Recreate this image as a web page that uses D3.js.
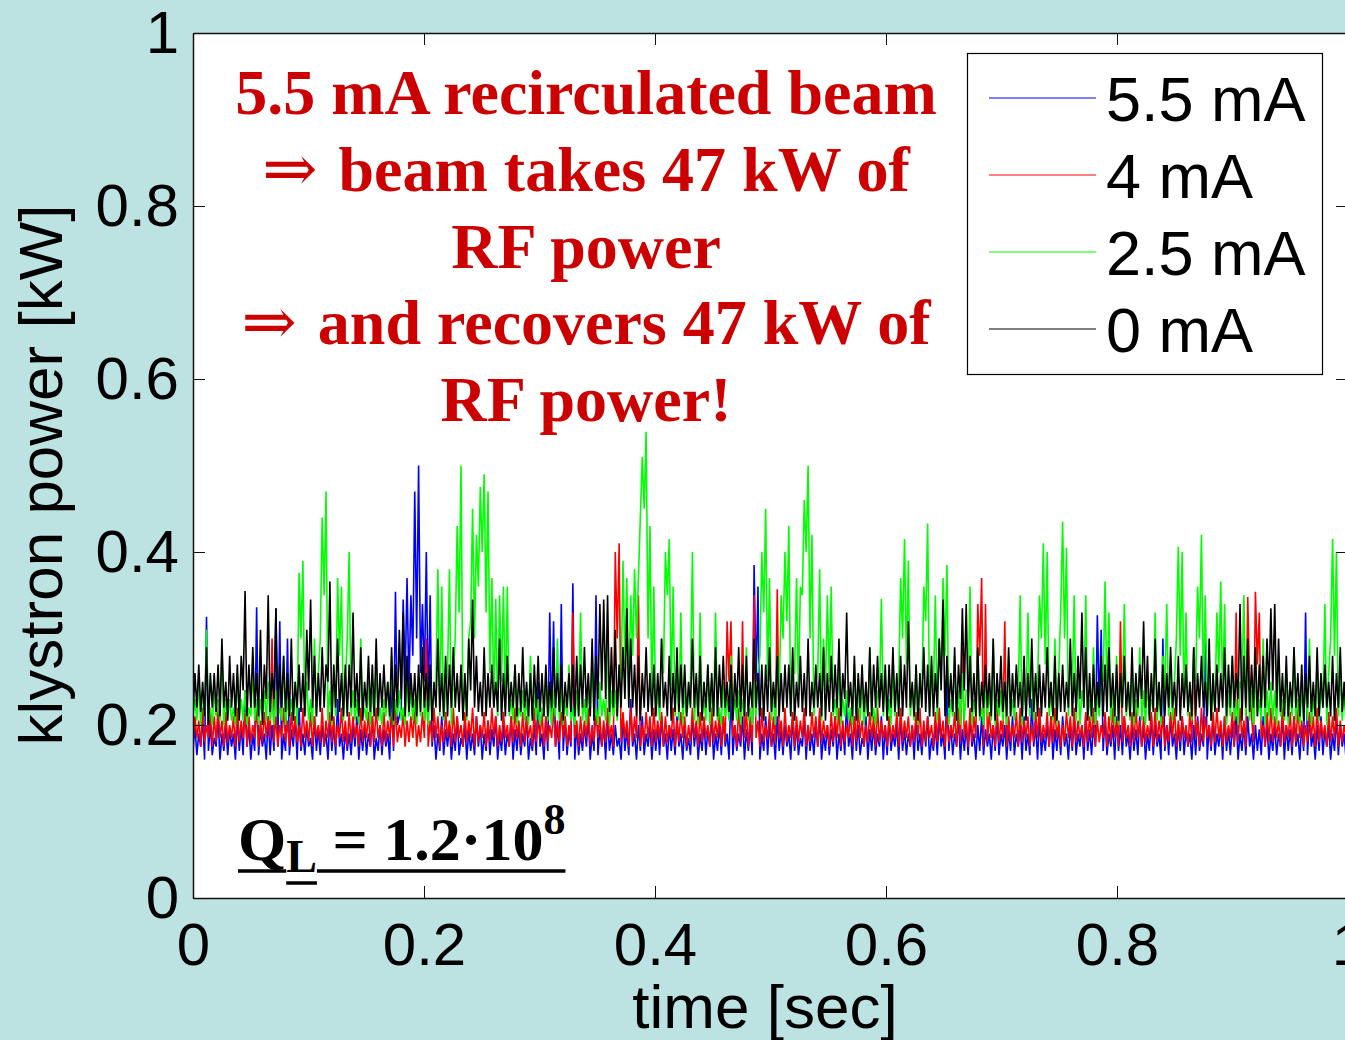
<html>
<head>
<meta charset="utf-8">
<style>
  body { margin: 0; background: #bce2e2; }
  svg { display: block; }
  .tick text { font-family: "Liberation Sans", Arial, sans-serif; }
</style>
</head>
<body>
<svg width="1345" height="1040"></svg>
<script src="https://unpkg.com/d3@7/dist/d3.min.js"></script>
<script>
const p55 = [
  .17,.2,.165,.19,.175,.21,.16,.325,.17,.2,.165,.185,.175,.21,.16,.19,.17,.2,.165,.195,.175,.19,.16,.21,.17,.2,.165,.24,.175,.2,.16,.19,.17,.336,.165,.195,.175,.19,.16,.21,
  .165,.2,.17,.335,.175,.32,.16,.19,.17,.30,.165,.195,.175,.21,.16,.22,.17,.19,.165,.2,.175,.185,.16,.21,.17,.195,.165,.2,.175,.19,.16,.21,.17,.2,.165,.23,.175,.19,.16,.195,
  .17,.19,.165,.2,.175,.21,.16,.195,.17,.2,.165,.19,.175,.21,.16,.185,.17,.2,.165,.195,.175,.19,.16,.26,.17,.354,.2,.21,.22,.345,.25,.37,.24,.35,.28,.47,.3,.50,.26,.34,
  .25,.40,.22,.35,.175,.2,.16,.19,.17,.21,.165,.195,.175,.2,.16,.19,.17,.21,.165,.185,.175,.2,.16,.195,.17,.19,.165,.21,.175,.2,.16,.19,.17,.205,.165,.195,.175,.21,.16,.19,
  .17,.2,.165,.19,.175,.21,.16,.195,.17,.2,.165,.19,.175,.21,.16,.185,.17,.2,.165,.25,.175,.19,.16,.21,.17,.33,.2,.32,.175,.2,.16,.34,.17,.21,.165,.195,.175,.364,.16,.2,
  .165,.19,.17,.2,.175,.21,.16,.19,.17,.35,.165,.195,.175,.2,.16,.21,.17,.19,.165,.2,.175,.185,.16,.21,.17,.195,.165,.23,.175,.19,.16,.2,.17,.21,.165,.19,.175,.2,.16,.195,
  .17,.2,.165,.21,.175,.19,.16,.2,.17,.195,.165,.21,.175,.19,.16,.2,.17,.185,.165,.21,.175,.2,.16,.19,.17,.205,.165,.195,.175,.21,.16,.19,.17,.2,.165,.21,.175,.19,.16,.24,
  .165,.2,.17,.19,.175,.21,.16,.195,.17,.2,.165,.385,.25,.36,.16,.19,.17,.21,.165,.2,.175,.19,.16,.21,.17,.195,.165,.2,.175,.19,.16,.21,.17,.2,.165,.185,.175,.21,.16,.2,
  .17,.19,.165,.2,.175,.21,.16,.19,.17,.2,.165,.195,.175,.21,.16,.19,.17,.2,.165,.23,.175,.19,.16,.21,.17,.2,.165,.185,.175,.21,.16,.195,.17,.2,.165,.19,.175,.21,.16,.2,
  .165,.21,.17,.19,.175,.2,.16,.21,.17,.195,.165,.19,.175,.2,.16,.21,.17,.19,.165,.2,.175,.21,.16,.185,.17,.2,.165,.21,.175,.19,.16,.25,.17,.2,.165,.19,.175,.21,.16,.195,
  .17,.2,.165,.21,.175,.19,.16,.2,.17,.21,.165,.195,.175,.19,.16,.2,.17,.21,.165,.19,.175,.2,.16,.195,.17,.21,.165,.19,.175,.2,.16,.21,.17,.19,.165,.23,.175,.2,.16,.21,
  .165,.19,.17,.2,.175,.21,.16,.195,.17,.2,.165,.21,.175,.19,.16,.2,.17,.21,.165,.19,.175,.2,.16,.21,.17,.195,.165,.2,.175,.327,.22,.31,.17,.21,.165,.19,.175,.2,.16,.21,
  .17,.2,.165,.21,.175,.19,.16,.2,.17,.195,.165,.21,.175,.2,.16,.19,.17,.21,.165,.2,.175,.19,.16,.30,.17,.2,.165,.21,.175,.19,.16,.2,.17,.21,.165,.195,.175,.19,.16,.2,
  .165,.21,.17,.19,.175,.30,.16,.2,.17,.21,.165,.19,.175,.2,.16,.21,.17,.195,.165,.2,.175,.21,.16,.19,.17,.2,.165,.21,.175,.19,.16,.2,.17,.195,.165,.21,.175,.2,.16,.19,
  .17,.2,.165,.19,.175,.21,.16,.2,.17,.195,.165,.21,.175,.19,.16,.2,.17,.33,.165,.21,.175,.19,.16,.2,.17,.21,.165,.195,.175,.2,.16,.19,.17,.21,.165,.2,.175,.19,.16,.2
];
const p40 = [
  .18,.21,.185,.205,.175,.22,.18,.2,.185,.215,.175,.21,.18,.22,.185,.205,.175,.215,.18,.2,.185,.21,.175,.22,.18,.205,.185,.215,.175,.21,.18,.2,.185,.22,.175,.205,.18,.215,.185,.21,
  .185,.30,.18,.21,.175,.2,.185,.22,.18,.205,.175,.215,.185,.21,.18,.2,.175,.22,.185,.205,.18,.215,.175,.21,.185,.2,.18,.22,.175,.205,.185,.215,.18,.21,.175,.2,.185,.22,.18,.205,
  .175,.215,.18,.21,.185,.2,.175,.22,.18,.205,.185,.215,.175,.21,.18,.22,.185,.2,.175,.215,.18,.205,.185,.21,.175,.22,.18,.2,.185,.215,.175,.205,.18,.21,.185,.22,.175,.2,.18,.215,
  .185,.30,.175,.205,.18,.22,.185,.21,.175,.2,.18,.215,.185,.205,.175,.22,.18,.21,.185,.2,.175,.215,.18,.205,.185,.22,.175,.21,.18,.2,.185,.215,.175,.205,.18,.22,.185,.21,.175,.2,
  .18,.215,.185,.2,.175,.21,.18,.22,.185,.205,.175,.215,.18,.21,.185,.2,.175,.22,.18,.205,.185,.215,.175,.21,.18,.2,.185,.22,.175,.205,.18,.215,.185,.21,.175,.2,.18,.33,.185,.205,
  .175,.21,.18,.205,.185,.22,.175,.2,.18,.215,.185,.21,.175,.205,.18,.22,.185,.2,.175,.40,.3,.41,.18,.215,.185,.205,.175,.22,.18,.21,.185,.35,.175,.2,.18,.215,.185,.21,.175,.22,
  .18,.205,.185,.215,.175,.21,.18,.2,.185,.22,.175,.205,.18,.215,.185,.21,.175,.2,.18,.22,.185,.205,.175,.215,.18,.21,.185,.2,.175,.22,.18,.205,.185,.215,.175,.21,.18,.32,.25,.32,
  .185,.2,.175,.22,.18,.32,.185,.215,.175,.21,.18,.35,.185,.205,.175,.22,.18,.2,.185,.215,.175,.21,.18,.357,.185,.205,.175,.22,.18,.2,.185,.215,.175,.21,.18,.205,.185,.22,.175,.2,
  .18,.215,.185,.21,.175,.22,.18,.205,.185,.2,.175,.215,.18,.21,.185,.22,.175,.205,.18,.2,.185,.215,.175,.21,.18,.22,.185,.205,.175,.2,.18,.215,.185,.21,.175,.22,.18,.205,.185,.2,
  .175,.21,.18,.2,.185,.215,.175,.22,.18,.205,.185,.21,.175,.2,.18,.215,.185,.22,.175,.205,.18,.21,.185,.2,.175,.215,.18,.22,.185,.205,.175,.21,.18,.2,.185,.215,.175,.22,.18,.29,
  .185,.205,.175,.22,.18,.21,.185,.34,.28,.37,.175,.34,.18,.215,.185,.2,.175,.22,.18,.205,.185,.32,.175,.21,.18,.2,.185,.215,.175,.22,.18,.205,.185,.21,.175,.2,.18,.215,.185,.22,
  .18,.2,.185,.215,.175,.21,.18,.22,.185,.205,.175,.2,.18,.215,.185,.21,.175,.22,.18,.205,.185,.2,.175,.215,.18,.21,.185,.22,.175,.205,.18,.2,.185,.215,.175,.21,.18,.22,.185,.205,
  .175,.32,.18,.21,.185,.2,.175,.215,.18,.22,.185,.205,.175,.21,.18,.2,.185,.215,.175,.22,.18,.205,.185,.21,.175,.2,.18,.215,.185,.22,.175,.205,.18,.21,.185,.2,.175,.215,.18,.29,
  .185,.205,.175,.22,.18,.21,.185,.2,.175,.215,.18,.22,.185,.205,.175,.21,.18,.2,.185,.215,.175,.33,.18,.22,.185,.205,.175,.348,.25,.21,.18,.354,.27,.33,.185,.2,.175,.215,.18,.22,
  .18,.21,.185,.205,.175,.22,.18,.2,.185,.215,.175,.21,.18,.22,.185,.205,.175,.2,.18,.215,.185,.21,.175,.22,.18,.205,.185,.2,.175,.215,.18,.21,.185,.22,.175,.205,.18,.2,.185,.215
];
const p25 = [
  .21,.23,.205,.25,.2,.24,.21,.31,.205,.22,.2,.24,.21,.23,.205,.29,.2,.23,.21,.23,.205,.22,.2,.26,.21,.23,.205,.24,.2,.22,.21,.27,.205,.23,.2,.23,.21,.24,.205,.25,
  .205,.23,.2,.24,.21,.22,.205,.28,.2,.23,.21,.23,.205,.25,.2,.376,.3,.39,.21,.25,.205,.23,.2,.3,.21,.26,.3,.44,.35,.47,.205,.24,.2,.25,.21,.37,.28,.36,.205,.25,
  .3,.40,.21,.24,.205,.23,.2,.3,.21,.22,.205,.25,.2,.24,.21,.27,.205,.22,.2,.23,.21,.25,.205,.28,.2,.23,.21,.24,.205,.22,.2,.26,.21,.24,.205,.23,.2,.25,.21,.29,
  .205,.23,.2,.25,.21,.24,.25,.38,.21,.36,.205,.24,.26,.38,.2,.26,.3,.43,.33,.50,.21,.25,.205,.3,.32,.45,.3,.42,.36,.475,.4,.49,.33,.47,.26,.37,.22,.346,.21,.35,
  .25,.36,.22,.36,.21,.23,.205,.27,.2,.22,.21,.24,.205,.23,.2,.28,.21,.24,.205,.23,.2,.22,.21,.26,.205,.23,.2,.24,.21,.30,.205,.25,.2,.23,.21,.27,.205,.22,.2,.24,
  .21,.33,.205,.23,.2,.24,.21,.28,.205,.22,.2,.25,.21,.23,.205,.3,.2,.24,.21,.24,.205,.26,.25,.39,.27,.37,.23,.35,.28,.38,.3,.37,.44,.51,.45,.539,.3,.43,.22,.36,
  .21,.24,.205,.3,.26,.40,.35,.415,.24,.36,.21,.26,.205,.33,.2,.24,.21,.23,.25,.40,.205,.24,.2,.33,.21,.23,.205,.27,.2,.24,.21,.33,.205,.22,.2,.25,.21,.23,.205,.28,
  .21,.23,.205,.24,.2,.23,.21,.29,.205,.22,.2,.25,.21,.26,.28,.40,.33,.45,.25,.37,.205,.24,.2,.28,.23,.35,.3,.40,.32,.43,.21,.26,.26,.37,.24,.36,.35,.46,.4,.50,
  .3,.42,.21,.25,.26,.38,.205,.3,.24,.35,.25,.36,.21,.23,.205,.28,.2,.23,.21,.24,.205,.22,.2,.27,.21,.24,.205,.25,.2,.23,.21,.29,.205,.22,.2,.24,.23,.346,.21,.26,
  .205,.23,.2,.28,.21,.24,.25,.37,.3,.415,.27,.39,.21,.24,.205,.27,.2,.25,.23,.36,.32,.433,.21,.25,.24,.35,.205,.3,.25,.37,.28,.385,.2,.23,.21,.28,.205,.24,.2,.26,
  .205,.24,.24,.36,.2,.23,.21,.29,.205,.22,.2,.25,.21,.24,.205,.3,.2,.23,.21,.24,.205,.25,.2,.28,.21,.23,.205,.26,.24,.35,.2,.24,.22,.33,.21,.27,.205,.25,.24,.35,
  .3,.41,.27,.40,.21,.24,.205,.3,.2,.26,.33,.435,.3,.405,.21,.28,.24,.35,.205,.26,.2,.24,.22,.35,.21,.23,.205,.29,.2,.24,.21,.27,.25,.366,.23,.33,.205,.24,.2,.28,
  .2,.24,.23,.34,.21,.24,.205,.26,.2,.23,.21,.29,.205,.24,.2,.25,.21,.23,.22,.33,.205,.24,.2,.28,.24,.34,.21,.26,.205,.25,.3,.406,.28,.40,.22,.33,.21,.24,.205,.29,
  .25,.36,.3,.42,.24,.35,.21,.27,.205,.24,.22,.33,.26,.366,.23,.34,.2,.24,.21,.28,.205,.23,.2,.25,.24,.35,.21,.29,.205,.24,.2,.26,.21,.23,.205,.3,.2,.24,.21,.25,
  .205,.24,.2,.28,.21,.23,.205,.26,.2,.24,.21,.29,.205,.23,.2,.24,.21,.25,.205,.3,.2,.23,.21,.27,.205,.24,.22,.34,.2,.26,.3,.415,.28,.40,.21,.26,.205,.24,.2,.3
];
const p00 = [
  .21,.26,.22,.27,.215,.25,.21,.29,.2,.26,.22,.26,.215,.27,.21,.3,.22,.25,.205,.28,.22,.26,.21,.27,.205,.28,.24,.355,.21,.27,.22,.29,.22,.26,.21,.31,.2,.27,.23,.35,
  .215,.26,.23,.335,.21,.27,.22,.28,.215,.26,.21,.3,.205,.25,.22,.27,.215,.26,.21,.31,.24,.345,.22,.28,.21,.26,.215,.29,.22,.27,.25,.366,.205,.27,.22,.3,.215,.26,.21,.27,
  .21,.27,.22,.33,.22,.26,.21,.29,.205,.25,.22,.28,.215,.27,.21,.3,.21,.26,.22,.27,.22,.25,.21,.29,.205,.27,.22,.31,.23,.33,.21,.28,.215,.26,.22,.26,.21,.27,.215,.29,
  .22,.26,.215,.27,.205,.25,.22,.3,.215,.26,.21,.28,.21,.27,.22,.29,.22,.26,.215,.27,.205,.26,.21,.3,.24,.345,.22,.28,.215,.25,.21,.29,.21,.26,.22,.27,.22,.25,.215,.3,
  .205,.26,.21,.28,.215,.25,.22,.27,.21,.26,.215,.29,.22,.25,.21,.26,.205,.27,.22,.28,.215,.26,.21,.27,.21,.25,.22,.29,.22,.26,.215,.27,.205,.25,.22,.26,.215,.27,.21,.28,
  .21,.27,.22,.29,.22,.26,.21,.3,.205,.28,.23,.34,.24,.345,.23,.35,.215,.29,.22,.31,.21,.27,.22,.29,.23,.335,.22,.3,.22,.27,.21,.28,.205,.26,.22,.29,.215,.26,.21,.27,
  .21,.26,.22,.3,.22,.25,.21,.28,.205,.26,.215,.29,.215,.27,.22,.27,.21,.25,.22,.3,.22,.26,.21,.28,.205,.25,.22,.27,.215,.26,.21,.29,.21,.27,.22,.28,.22,.25,.215,.27,
  .205,.26,.22,.29,.215,.27,.21,.28,.21,.25,.22,.3,.22,.26,.21,.27,.205,.27,.215,.29,.215,.25,.22,.28,.21,.26,.215,.27,.22,.27,.21,.29,.205,.25,.22,.28,.215,.26,.21,.3,
  .21,.25,.22,.27,.22,.26,.21,.29,.205,.26,.215,.28,.215,.27,.22,.3,.21,.26,.23,.33,.22,.25,.21,.28,.205,.26,.22,.27,.215,.25,.21,.29,.21,.27,.22,.28,.22,.26,.215,.27,
  .205,.27,.22,.29,.215,.26,.21,.28,.21,.27,.22,.32,.22,.25,.21,.27,.205,.26,.22,.29,.215,.27,.21,.28,.21,.26,.22,.3,.24,.345,.21,.28,.22,.26,.215,.29,.205,.27,.23,.335,
  .24,.34,.22,.28,.215,.26,.21,.29,.21,.25,.22,.27,.22,.26,.21,.3,.205,.26,.22,.28,.215,.25,.21,.29,.21,.26,.22,.27,.22,.25,.21,.28,.205,.26,.22,.3,.215,.26,.21,.27,
  .21,.26,.22,.29,.22,.25,.21,.28,.205,.26,.215,.27,.215,.25,.22,.3,.21,.26,.215,.28,.23,.33,.22,.29,.205,.26,.21,.27,.215,.25,.22,.28,.21,.27,.215,.29,.22,.26,.21,.27,
  .205,.26,.22,.28,.215,.25,.21,.29,.21,.26,.22,.27,.23,.32,.22,.28,.205,.26,.215,.3,.215,.25,.21,.27,.21,.26,.22,.29,.22,.25,.21,.28,.205,.26,.22,.27,.215,.25,.21,.29,
  .21,.26,.22,.28,.22,.25,.21,.3,.205,.26,.215,.27,.215,.26,.22,.29,.21,.27,.22,.28,.22,.26,.23,.34,.205,.28,.22,.3,.215,.27,.22,.29,.21,.27,.22,.28,.22,.3,.24,.335,
  .24,.34,.22,.3,.215,.26,.21,.28,.21,.25,.22,.29,.22,.26,.21,.27,.205,.26,.22,.28,.215,.25,.21,.29,.21,.26,.22,.27,.22,.25,.21,.28,.205,.26,.22,.29,.215,.25,.21,.27
];

const seriesNames = ["5.5 mA", "4 mA", "2.5 mA", "0 mA"];
const seriesData = [p55, p40, p25, p00];
const seriesColors = ["#0000ff", "#ff0000", "#00ff00", "#000000"];

const xTicks = [0, 0.2, 0.4, 0.6, 0.8, 1];
const yTicks = [0, 0.2, 0.4, 0.6, 0.8, 1];

// each line: [arrow prefix, text]
const noteLines = [
  ["", "5.5 mA recirculated beam"],
  ["\u21D2 ", "beam takes 47 kW of"],
  ["", "RF power"],
  ["\u21D2 ", "and recovers 47 kW of"],
  ["", "RF power!"]
];

const svg = d3.select('svg');
const width = +svg.attr('width');
const height = +svg.attr('height');

const plotL = 193, plotR = 1348, plotT = 33, plotB = 898;

const x = d3.scaleLinear().domain([0, 1]).range([plotL, plotR]);
const y = d3.scaleLinear().domain([0, 1]).range([plotB, plotT]);

svg.append('rect')
  .attr('width', width).attr('height', height)
  .attr('fill', '#bce2e2');

svg.append('rect')
  .attr('x', plotL).attr('y', plotT)
  .attr('width', plotR - plotL).attr('height', plotB - plotT)
  .attr('fill', '#fff');

svg.append('clipPath').attr('id', 'plotclip')
  .append('rect')
  .attr('x', plotL).attr('y', plotT)
  .attr('width', plotR - plotL).attr('height', plotB - plotT);

const g = svg.append('g').attr('clip-path', 'url(#plotclip)');
seriesData.forEach((s, k) => {
  // evenly spaced samples over the 1 s record
  const line = d3.line()
    .x((d, i) => x(i / (s.length - 1)))
    .y(d => y(d));
  g.append('path')
    .datum(s)
    .attr('d', line)
    .attr('fill', 'none')
    .attr('stroke', seriesColors[k])
    .attr('stroke-width', 1.6)
    .attr('stroke-linejoin', 'miter')
    .attr('stroke-miterlimit', 3);
});

// axes, ticks pointing inward like matlab
const fmt = d3.format('');
const axes = [
  svg.append('g').attr('transform', `translate(0,${plotB})`)
    .call(d3.axisBottom(x).tickValues(xTicks).tickFormat(fmt).tickSize(-12).tickSizeOuter(0).tickPadding(24)),
  svg.append('g').attr('transform', `translate(${plotL},0)`)
    .call(d3.axisLeft(y).tickValues(yTicks).tickFormat(fmt).tickSize(-12).tickSizeOuter(0).tickPadding(14)),
  svg.append('g').attr('transform', `translate(0,${plotT})`)
    .call(d3.axisTop(x).tickValues(xTicks).tickFormat('').tickSize(-12).tickSizeOuter(0)),
  svg.append('g').attr('transform', `translate(${plotR},0)`)
    .call(d3.axisRight(y).tickValues(yTicks).tickFormat('').tickSize(-12).tickSizeOuter(0))
];
axes.forEach(a => {
  a.select('.domain').attr('stroke', '#111').attr('stroke-width', 1.5);
  a.selectAll('.tick line').attr('stroke', '#111');
  a.selectAll('.tick text').attr('font-size', 60).attr('fill', '#000');
});

svg.append('text')
  .attr('x', 765).attr('y', 1028)
  .attr('text-anchor', 'middle')
  .attr('font-family', '"Liberation Sans", Arial, sans-serif')
  .attr('font-size', 62)
  .text('time [sec]');

svg.append('text')
  .attr('transform', 'translate(62,475) rotate(-90)')
  .attr('text-anchor', 'middle')
  .attr('font-family', '"Liberation Sans", Arial, sans-serif')
  .attr('font-size', 62)
  .text('klystron power [kW]');

// red annotation
const notes = svg.append('g').selectAll('text')
  .data(noteLines)
  .enter().append('text')
  .attr('x', 586)
  .attr('y', (d, i) => 114 + i * 76.8)
  .attr('text-anchor', 'middle')
  .attr('font-family', '"Liberation Serif", "Times New Roman", serif')
  .attr('font-weight', 'bold')
  .attr('font-size', 64)
  .attr('fill', '#cc0000');
notes.append('tspan')
  .attr('font-family', '"DejaVu Serif", serif')
  .attr('font-weight', 'normal')
  .attr('font-size', 66)
  .text(d => d[0]);
notes.append('tspan').text(d => d[1]);

// Q_L label
const q = svg.append('text')
  .attr('x', 238).attr('y', 860)
  .attr('font-family', '"Liberation Serif", "Times New Roman", serif')
  .attr('font-weight', 'bold')
  .attr('font-size', 62)
  .attr('fill', '#000');
q.append('tspan').text('Q');
q.append('tspan').attr('font-size', 46).attr('dy', 12).text('L');
q.append('tspan').attr('dy', -12).text(' = 1.2\u00B710');
q.append('tspan').attr('font-size', 44).attr('dy', -26).text('8');

const qn = q.node();
const nch = qn.getNumberOfChars();
const under = [
  [qn.getStartPositionOfChar(0).x, qn.getEndPositionOfChar(0).x, 871],
  [qn.getStartPositionOfChar(1).x, qn.getEndPositionOfChar(1).x, 883],
  [qn.getStartPositionOfChar(2).x, qn.getEndPositionOfChar(nch - 1).x, 871]
];
svg.append('g').selectAll('line')
  .data(under)
  .enter().append('line')
  .attr('x1', d => d[0]).attr('x2', d => d[1])
  .attr('y1', d => d[2]).attr('y2', d => d[2])
  .attr('stroke', '#000').attr('stroke-width', 3.5);

// legend
const lg = svg.append('g');
lg.append('rect')
  .attr('x', 967.5).attr('y', 53.5)
  .attr('width', 355).attr('height', 321)
  .attr('fill', '#fff').attr('stroke', '#000').attr('stroke-width', 1.2);
seriesNames.forEach((name, k) => {
  const cy = 98 + k * 77;
  lg.append('line')
    .attr('x1', 989).attr('x2', 1096)
    .attr('y1', cy).attr('y2', cy)
    .attr('stroke', seriesColors[k]).attr('stroke-width', 1);
  lg.append('text')
    .attr('x', 1106).attr('y', cy + 23)
    .attr('font-family', '"Liberation Sans", Arial, sans-serif')
    .attr('font-size', 63)
    .text(name);
});
</script>
</body>
</html>
